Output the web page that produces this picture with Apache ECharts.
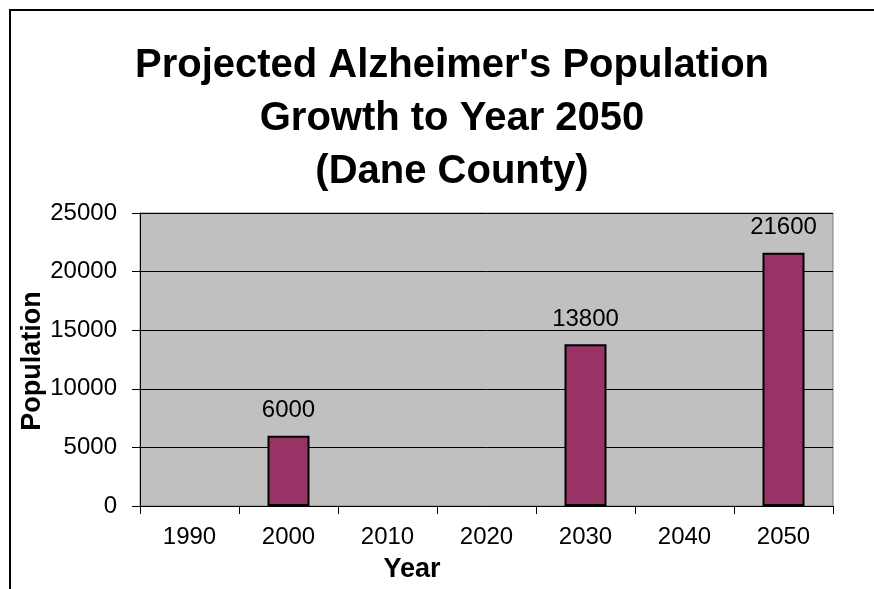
<!DOCTYPE html>
<html>
<head>
<meta charset="utf-8">
<script src="https://cdn.jsdelivr.net/npm/echarts@6/dist/echarts.min.js"></script>
<style>html,body{margin:0;padding:0;background:#fff}#c{width:874px;height:589px}</style>
</head>
<body>
<div id="c"></div>
<script>
const years = ['1990','2000','2010','2020','2030','2040','2050'];
const population = [null, 6000, null, null, 13800, null, 21600];
const yTicks = {min: 0, max: 25000, interval: 5000};
const titleText = "Projected Alzheimer's Population\nGrowth to Year 2050\n(Dane County)";
const xName = 'Year';
const yName = 'Population';

const font = 'Arial, "Liberation Sans", sans-serif';
const chart = echarts.init(document.getElementById('c'), null, {renderer: 'canvas'});
chart.setOption({
  animation: false,
  backgroundColor: '#ffffff',
  title: {
    text: titleText,
    left: 447, top: 34, textAlign: 'center',
    textStyle: {fontFamily: font, fontWeight: 'bold', fontSize: 40, lineHeight: 53, color: '#000'}
  },
  grid: {
    left: 140, right: 41, top: 213, bottom: 83,
    show: true, backgroundColor: '#C0C0C0', borderColor: '#808080', borderWidth: 1
  },
  xAxis: {
    type: 'category', data: years, boundaryGap: true,
    axisLine: {lineStyle: {color: '#000', width: 1}},
    axisTick: {show: true, interval: 0, length: 8, lineStyle: {color: '#000'}},
    axisLabel: {fontFamily: font, fontSize: 24, color: '#000', margin: 19, interval: 0},
    splitLine: {show: false}
  },
  yAxis: {
    type: 'value', min: yTicks.min, max: yTicks.max, interval: yTicks.interval,
    axisLine: {show: true, lineStyle: {color: '#000', width: 1}},
    axisTick: {show: true, length: 8, lineStyle: {color: '#000'}},
    axisLabel: {fontFamily: font, fontSize: 24, color: '#000', margin: 23, formatter: v => String(v)},
    splitLine: {show: true, lineStyle: {color: '#000', width: 1}}
  },
  series: [{
    type: 'bar', data: population, barWidth: 42,
    itemStyle: {color: '#993366', borderColor: '#000', borderWidth: 2},
    label: {show: true, position: 'top', distance: 13, fontFamily: font, fontSize: 24, color: '#000'}
  }],
  graphic: [
    {type: 'polyline', shape: {points: [[10, 589], [10, 10], [874, 10]]}, style: {stroke: '#000', lineWidth: 2, fill: null}},
    {type: 'text', x: 412, y: 570, style: {text: xName, font: 'bold 27px ' + font, fill: '#000', align: 'center', verticalAlign: 'middle'}},
    {type: 'text', x: 33, y: 361, rotation: Math.PI / 2, style: {text: yName, font: 'bold 27px ' + font, fill: '#000', align: 'center', verticalAlign: 'middle'}}
  ]
});
</script>
</body>
</html>
